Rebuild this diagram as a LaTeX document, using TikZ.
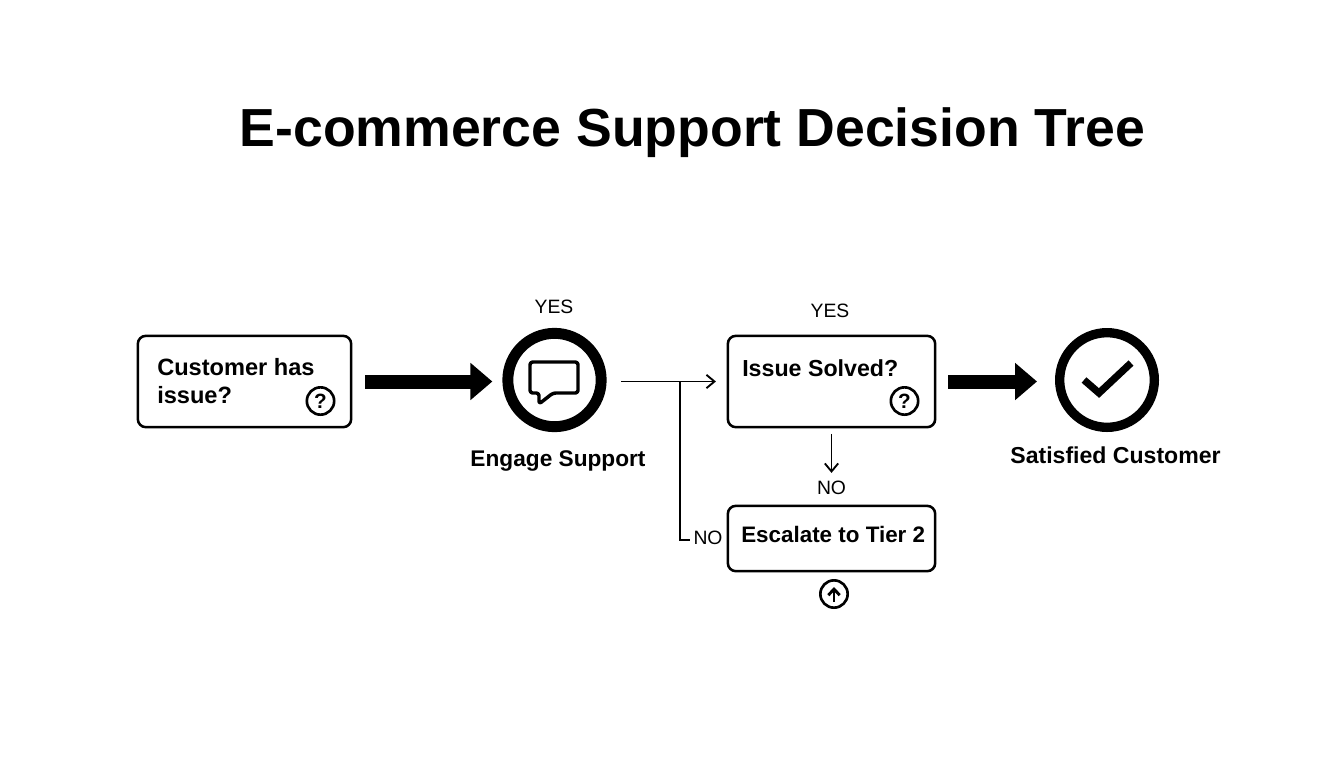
\documentclass[tikz,border=0pt]{standalone}
\usepackage{fontspec}
\setmainfont{Liberation Sans}
\usetikzlibrary{arrows.meta}
\tikzset{
  box/.style={draw, line width=1.9pt, rounded corners=6pt, inner sep=0pt},
  ringA/.style={circle, draw, line width=8.2pt, minimum size=70pt, inner sep=0pt},
  ringB/.style={circle, draw, line width=7pt, minimum size=71pt, inner sep=0pt},
  badge/.style={circle, draw, line width=2pt, minimum size=20.5pt, inner sep=0pt, font=\fontsize{15.5}{15.5}\selectfont\bfseries},
  boxtext/.style={font=\fontsize{17}{21.5}\selectfont\bfseries, inner sep=0pt, align=left},
  answer/.style={font=\fontsize{14.5}{16}\selectfont, inner sep=0pt},
  fatarrow/.style={line width=10.5pt, -{Triangle[length=16.5pt,width=27pt]}},
  thinarrow/.style={line width=1.4pt, -{Straight Barb[length=6pt,width=10pt]}},
  thinline/.style={line width=1.8pt}
}
\begin{document}
\begin{tikzpicture}[x=0.75pt,y=-0.75pt]
  \useasboundingbox (0,0) rectangle (1344,768);
  \node [font=\fontsize{40.2}{40}\selectfont\bfseries, inner sep=0pt] (title) at (692.5,133) {E-commerce Support Decision Tree};
  % boxes
  \node [box, minimum width=160pt, minimum height=68.5pt] (custbox) at (244.5,381.5) {};
  \node [box, minimum width=155.5pt, minimum height=68.5pt] (solvedbox) at (831.5,381.5) {};
  \node [box, minimum width=155.5pt, minimum height=49pt] (tierbox) at (831.5,538.5) {};
  \node [boxtext, anchor=west, font=\fontsize{17.7}{21.5}\selectfont\bfseries] (custtext) at (157,381) {Customer has\\issue?};
  \node [boxtext, anchor=west, font=\fontsize{17.4}{21.5}\selectfont\bfseries] (solvedtext) at (742,368) {Issue Solved?};
  \node [boxtext, anchor=west, font=\fontsize{16.8}{21.5}\selectfont\bfseries] (tiertext) at (741,534) {Escalate to Tier 2};
  \node [badge] (custq) at (320.5,401) {?};
  \node [badge] (solvedq) at (904.5,401) {?};
  \node [badge] (tierup) at (834,594) {};
  \draw [line width=2.2pt, -{Straight Barb[length=4.5pt,width=8.5pt]}] (834,602) -- (834,587);
  % circles
  \node [ringA] (engage) at (554.5,380) {};
  \node [ringB] (happy) at (1107,380) {};
  \draw [line width=2.6pt, line join=round, rounded corners=2pt] (530,362) -- (578,362) -- (578,393) -- (553,393) -- (539,404) -- (539,393) -- (530,393) -- cycle;
  \draw [line width=5.4pt, line join=miter] (1084,380) -- (1099,393) -- (1131,363);
  % labels
  \node [boxtext] (engagelabel) at (558,460.5) {Engage Support};
  \node [boxtext, font=\fontsize{17.3}{21.5}\selectfont\bfseries] (happylabel) at (1115.5,455) {Satisfied Customer};
  \node [answer] (yes1) at (554,307) {YES};
  \node [answer] (yes2) at (830,311) {YES};
  \node [answer] (no1) at (831.5,488) {NO};
  \node [answer] (no2) at (708,538) {NO};
  % connectors
  \coordinate (branch) at (680,381.5);
  \coordinate (branchend) at (690,540);
  \draw [fatarrow, shorten <=9.75pt, shorten >=7.5pt] (custbox.east) -- (custbox.east -| engage.west);
  \draw [fatarrow, shorten <=9pt, shorten >=13.5pt] (solvedbox.east) -- (solvedbox.east -| happy.west);
  \draw [thinarrow, shorten <=11pt, shorten >=8pt] (solvedbox.west -| engage.east) -- (solvedbox.west);
  \draw [thinline] (branch) |- (branchend);
  \draw [thinarrow, shorten <=4pt, shorten >=6pt] (solvedbox.south) -- (no1.north);
\end{tikzpicture}
\end{document}
